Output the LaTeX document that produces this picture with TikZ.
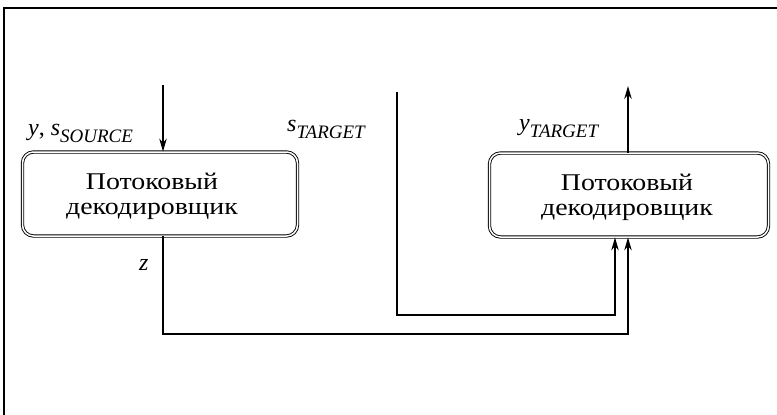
\documentclass[tikz,border=0pt]{standalone}
\usepackage{fontspec}
\setmainfont{Liberation Serif}
\newfontfamily\boxfont[FakeStretch=1.16]{Liberation Serif}
\usetikzlibrary{arrows.meta}
\newcommand{\sym}[2]{\textit{#1}\raisebox{-0.3em}{\fontsize{19}{19}\selectfont\textit{#2}}}
\begin{document}
\begin{tikzpicture}[x=1pt,y=-1pt,
  decoder/.style={draw, line width=0.9pt, double distance=1.5pt,
    rounded corners=11pt, minimum height=84pt, inner sep=0pt},
  caption/.style={align=center, inner sep=0pt,
    font=\boxfont\fontsize{24}{25}\selectfont},
  flow/.style={line width=1.2pt},
  arr/.style={flow, -{Stealth[length=13pt,width=7.5pt]}},
  lbl/.style={font=\fontsize{24}{26}\selectfont, inner sep=0pt, anchor=base west}]
  \useasboundingbox (0,0) rectangle (777,415);
  % frame edges
  \draw[line width=1.8pt] (4,415) -- (4,8) -- (777,8);

  % the two decoder blocks
  \node[decoder, minimum width=275pt] (dec1) at (160,194) {};
  \node[caption] (dec1t) at (152,196) {Потоковый\\декодировщик};
  \node[decoder, minimum width=279pt] (dec2) at (629,195) {};
  \node[caption] (dec2t) at (627,197) {Потоковый\\декодировщик};

  % input of the first decoder
  \coordinate (in1) at (163,85);
  \draw[arr] (in1) -- (in1 |- dec1.north);

  % output of the second decoder
  \coordinate (out2) at (628,86);
  \draw[arr] (out2 |- dec2.north) -- (out2);

  % s_TARGET line
  \coordinate (st) at (397,92);
  \coordinate (stc) at (397,315);
  \coordinate (stx) at (615,315);
  \draw[arr] (st) -- (stc) -- (stx) -- (stx |- dec2.south);

  % z line
  \coordinate (zc) at (163,334);
  \coordinate (zx) at (628,334);
  \draw[arr] (zc |- dec1.south) -- (zc) -- (zx) -- (zx |- dec2.south);

  % labels
  \node[lbl] (l1) at (28,135) {\textit{y}, \sym{s}{SOURCE}};
  \node[lbl] (l2) at (287,131) {\sym{s}{TARGET}};
  \node[lbl] (l3) at (519,130) {\sym{y}{TARGET}};
  \node[lbl] (l4) at (139,270) {\textit{z}};
\end{tikzpicture}
\end{document}
